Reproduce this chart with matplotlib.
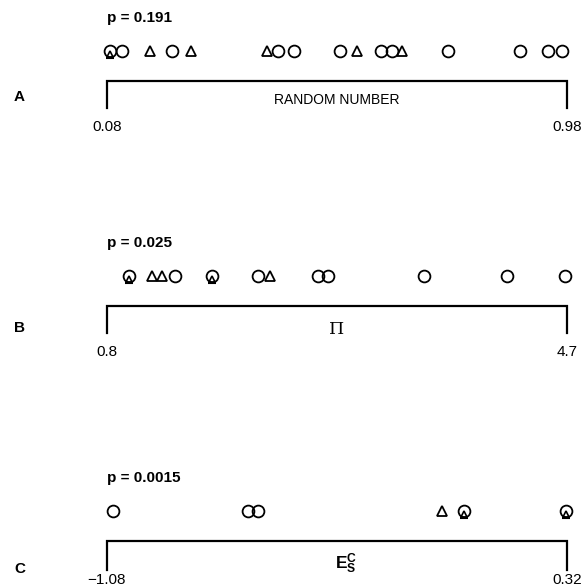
import numpy as np
import matplotlib.pyplot as plt
from matplotlib import transforms

plt.rcParams['font.family'] = ['Liberation Sans', 'DejaVu Sans']
plt.rcParams['mathtext.fontset'] = 'custom'
plt.rcParams['mathtext.bf'] = 'Liberation Sans:bold'
plt.rcParams['mathtext.rm'] = 'Liberation Sans'

# panel A: random number
a_range = [0.08, 0.98]
a_circles = [0.109, 0.207, 0.415, 0.445, 0.535, 0.617, 0.637, 0.747, 0.888, 0.943, 0.970]
a_triangles = [0.164, 0.245, 0.394, 0.570, 0.658]
a_both = [0.085]
a_ticks = ["0.08", "0.98"]

# panel B: Pi
b_range = [0.8, 4.7]
b_circles = [1.38, 2.08, 2.59, 2.67, 3.49, 4.19, 4.68]
b_triangles = [1.18, 1.27, 2.18]
b_both = [0.987, 1.69]
b_ticks = ["0.8", "4.7"]

# panel C: Es^c
c_range = [-1.08, 0.32]
c_circles = [-1.062, -0.652, -0.621]
c_triangles = [-0.060]
c_both = [0.007, 0.317]
c_ticks = ["\u22121.08", "0.32"]

panels = [
    ("A", "p = 0.191", a_range, a_circles, a_triangles, a_both, a_ticks, "RANDOM NUMBER", 0, 140),
    ("B", "p = 0.025", b_range, b_circles, b_triangles, b_both, b_ticks, "\u03a0", 225, 140),
    ("C", "p = 0.0015", c_range, c_circles, c_triangles, c_both, c_ticks, r"$\mathbf{E_S^C}$", 460, 128),
]

W, H = 586, 588
fig = plt.figure(figsize=(W / 100, H / 100), dpi=100)

x0, x1 = 107, 567
for letter, ptxt, rng, circ, tri, both, ticks, xlabel, top, hgt in panels:
    ax = fig.add_axes([x0 / W, 1 - (top + hgt) / H, (x1 - x0) / W, hgt / H])
    ax.set_xlim(rng[0], rng[1])
    ax.set_ylim(hgt, 0)
    ax.axis("off")

    # bracket
    tick_len = 108 if letter != "C" else 110
    ax.plot([rng[0], rng[0], rng[1], rng[1]], [tick_len, 81, 81, tick_len],
            color="black", lw=1.6, clip_on=False, solid_joinstyle="miter")

    my = 51
    ax.plot(circ, [my] * len(circ), "o", ms=8.5, mfc="none", mec="black", mew=1.3, clip_on=False)
    ax.plot(tri, [my] * len(tri), "^", ms=7, mfc="none", mec="black", mew=1.3, clip_on=False)
    # overlapped circle + triangle
    ax.plot(both, [my] * len(both), "o", ms=8.5, mfc="none", mec="black", mew=1.3, clip_on=False)
    down = transforms.offset_copy(ax.transData, fig=fig, x=0, y=-2.0, units="points")
    ax.plot(both, [my] * len(both), "^", ms=5, mfc="none", mec="black", mew=1.2,
            transform=down, clip_on=False)
    down2 = transforms.offset_copy(ax.transData, fig=fig, x=0, y=-4.8, units="points")
    ax.plot(both, [my] * len(both), "_", ms=6, mec="black", mew=1.5,
            transform=down2, clip_on=False)

    ax.text(rng[0], 18, ptxt, fontsize=11, fontweight="bold", ha="left", va="center")
    lab_y = 127 if letter != "C" else 120
    ax.text(rng[0], lab_y, ticks[0], fontsize=11, ha="center", va="center", clip_on=False)
    ax.text(rng[1], lab_y, ticks[1], fontsize=11, ha="center", va="center", clip_on=False)

    mid = (rng[0] + rng[1]) / 2
    if letter == "A":
        ax.text(mid, 100, xlabel, fontsize=10, ha="center", va="center")
    elif letter == "B":
        ax.text(mid, 104, xlabel, fontsize=12.5, ha="center", va="center", family="DejaVu Serif")
    else:
        ax.text(mid + (rng[1] - rng[0]) * 0.02, 104, xlabel, fontsize=12.5, ha="center", va="center")

    fig.text(14 / W, 1 - (top + [97, 103, 109]["ABC".index(letter)]) / H, letter,
             fontsize=11, fontweight="bold", ha="left", va="center")

fig.savefig("out.png", dpi=100)
